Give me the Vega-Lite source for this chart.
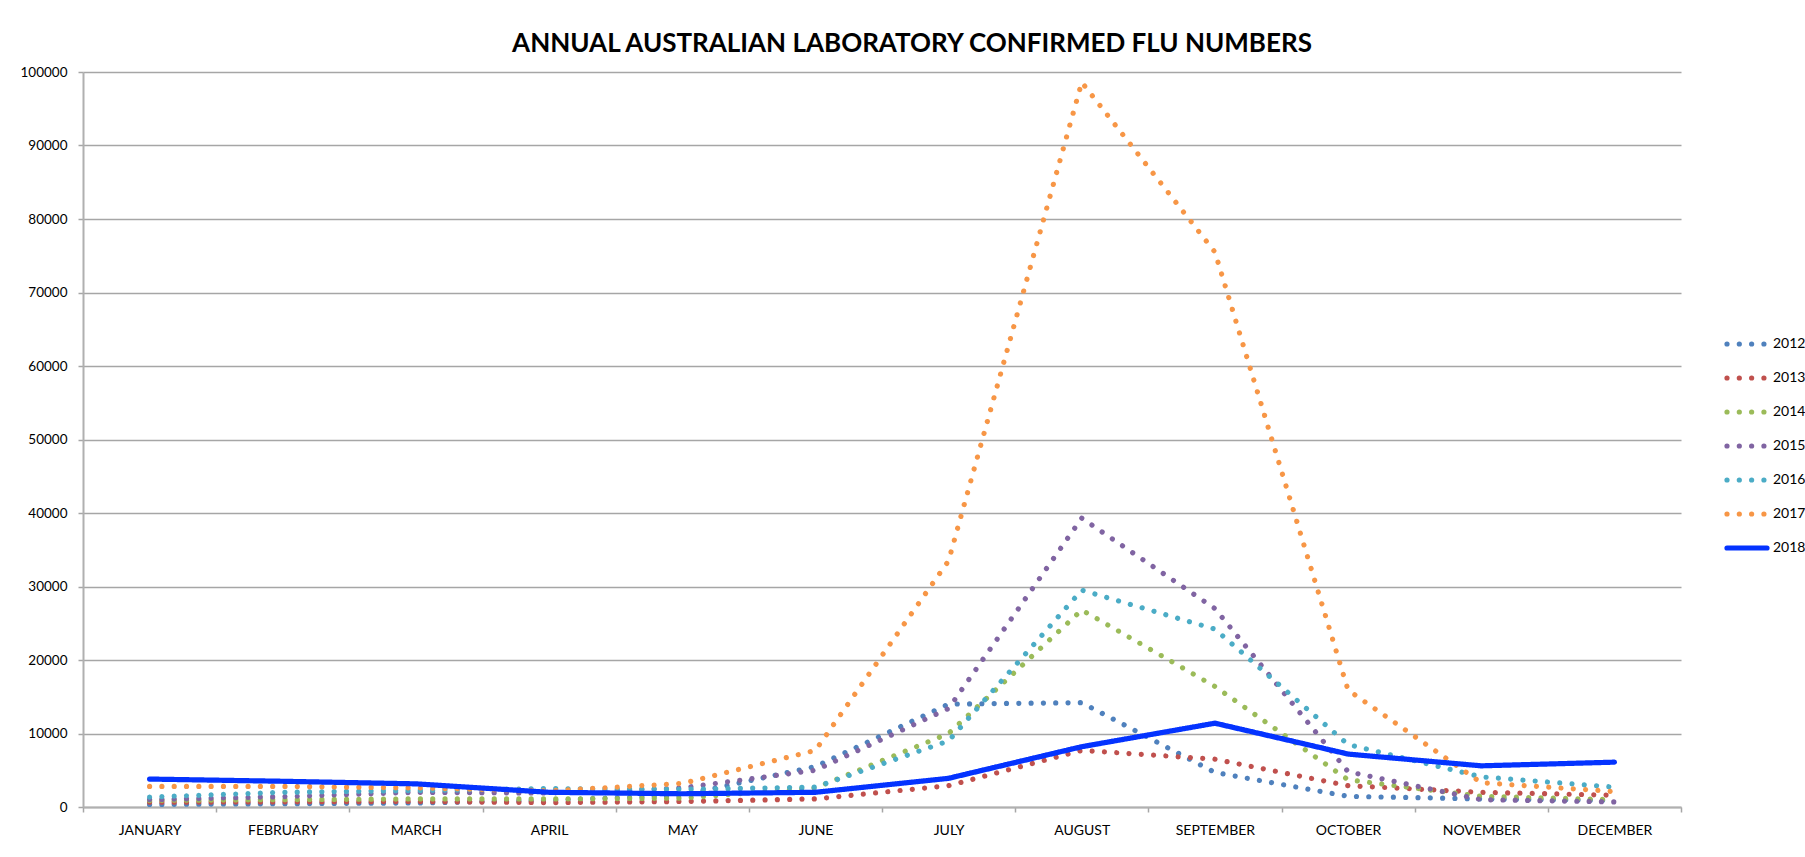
{
  "$schema": "https://vega.github.io/schema/vega-lite/v6.json",
  "autosize": {"type": "none"},
  "width": 1598,
  "height": 735,
  "padding": {"left": 83, "top": 72, "right": 124, "bottom": 50},
  "background": "white",
  "title": {
    "text": "ANNUAL AUSTRALIAN LABORATORY CONFIRMED FLU NUMBERS",
    "font": "Lato",
    "fontSize": 26,
    "fontWeight": "bold",
    "color": "black",
    "anchor": "middle",
    "frame": "group",
    "dx": 30,
    "offset": 8
  },
  "data": {
    "values": [
      {"month": "JANUARY", "year": "2012", "cases": 350},
      {"month": "FEBRUARY", "year": "2012", "cases": 450},
      {"month": "MARCH", "year": "2012", "cases": 550},
      {"month": "APRIL", "year": "2012", "cases": 900},
      {"month": "MAY", "year": "2012", "cases": 1600},
      {"month": "JUNE", "year": "2012", "cases": 5500},
      {"month": "JULY", "year": "2012", "cases": 14000},
      {"month": "AUGUST", "year": "2012", "cases": 14200},
      {"month": "SEPTEMBER", "year": "2012", "cases": 4700},
      {"month": "OCTOBER", "year": "2012", "cases": 1450},
      {"month": "NOVEMBER", "year": "2012", "cases": 1100},
      {"month": "DECEMBER", "year": "2012", "cases": 900},
      {"month": "JANUARY", "year": "2013", "cases": 650},
      {"month": "FEBRUARY", "year": "2013", "cases": 700},
      {"month": "MARCH", "year": "2013", "cases": 750},
      {"month": "APRIL", "year": "2013", "cases": 600},
      {"month": "MAY", "year": "2013", "cases": 750},
      {"month": "JUNE", "year": "2013", "cases": 1100},
      {"month": "JULY", "year": "2013", "cases": 2900},
      {"month": "AUGUST", "year": "2013", "cases": 7700},
      {"month": "SEPTEMBER", "year": "2013", "cases": 6500},
      {"month": "OCTOBER", "year": "2013", "cases": 2900},
      {"month": "NOVEMBER", "year": "2013", "cases": 2000},
      {"month": "DECEMBER", "year": "2013", "cases": 1600},
      {"month": "JANUARY", "year": "2014", "cases": 900},
      {"month": "FEBRUARY", "year": "2014", "cases": 1000},
      {"month": "MARCH", "year": "2014", "cases": 1100},
      {"month": "APRIL", "year": "2014", "cases": 1100},
      {"month": "MAY", "year": "2014", "cases": 1200},
      {"month": "JUNE", "year": "2014", "cases": 2600},
      {"month": "JULY", "year": "2014", "cases": 10000},
      {"month": "AUGUST", "year": "2014", "cases": 26800},
      {"month": "SEPTEMBER", "year": "2014", "cases": 16400},
      {"month": "OCTOBER", "year": "2014", "cases": 3700},
      {"month": "NOVEMBER", "year": "2014", "cases": 1450},
      {"month": "DECEMBER", "year": "2014", "cases": 1000},
      {"month": "JANUARY", "year": "2015", "cases": 1000},
      {"month": "FEBRUARY", "year": "2015", "cases": 1400},
      {"month": "MARCH", "year": "2015", "cases": 2000},
      {"month": "APRIL", "year": "2015", "cases": 1900},
      {"month": "MAY", "year": "2015", "cases": 2600},
      {"month": "JUNE", "year": "2015", "cases": 5000},
      {"month": "JULY", "year": "2015", "cases": 13400},
      {"month": "AUGUST", "year": "2015", "cases": 39300},
      {"month": "SEPTEMBER", "year": "2015", "cases": 27000},
      {"month": "OCTOBER", "year": "2015", "cases": 4800},
      {"month": "NOVEMBER", "year": "2015", "cases": 1000},
      {"month": "DECEMBER", "year": "2015", "cases": 700},
      {"month": "JANUARY", "year": "2016", "cases": 1350},
      {"month": "FEBRUARY", "year": "2016", "cases": 2000},
      {"month": "MARCH", "year": "2016", "cases": 2250},
      {"month": "APRIL", "year": "2016", "cases": 2500},
      {"month": "MAY", "year": "2016", "cases": 2400},
      {"month": "JUNE", "year": "2016", "cases": 2700},
      {"month": "JULY", "year": "2016", "cases": 9000},
      {"month": "AUGUST", "year": "2016", "cases": 29500},
      {"month": "SEPTEMBER", "year": "2016", "cases": 24200},
      {"month": "OCTOBER", "year": "2016", "cases": 8500},
      {"month": "NOVEMBER", "year": "2016", "cases": 4100},
      {"month": "DECEMBER", "year": "2016", "cases": 2700},
      {"month": "JANUARY", "year": "2017", "cases": 2800},
      {"month": "FEBRUARY", "year": "2017", "cases": 2800},
      {"month": "MARCH", "year": "2017", "cases": 2600},
      {"month": "APRIL", "year": "2017", "cases": 2200},
      {"month": "MAY", "year": "2017", "cases": 3200},
      {"month": "JUNE", "year": "2017", "cases": 7700},
      {"month": "JULY", "year": "2017", "cases": 33500},
      {"month": "AUGUST", "year": "2017", "cases": 98600},
      {"month": "SEPTEMBER", "year": "2017", "cases": 75500},
      {"month": "OCTOBER", "year": "2017", "cases": 15900},
      {"month": "NOVEMBER", "year": "2017", "cases": 3300},
      {"month": "DECEMBER", "year": "2017", "cases": 2100},
      {"month": "JANUARY", "year": "2018", "cases": 3800},
      {"month": "FEBRUARY", "year": "2018", "cases": 3500},
      {"month": "MARCH", "year": "2018", "cases": 3150},
      {"month": "APRIL", "year": "2018", "cases": 2000},
      {"month": "MAY", "year": "2018", "cases": 1800},
      {"month": "JUNE", "year": "2018", "cases": 2000},
      {"month": "JULY", "year": "2018", "cases": 3900},
      {"month": "AUGUST", "year": "2018", "cases": 8200},
      {"month": "SEPTEMBER", "year": "2018", "cases": 11400},
      {"month": "OCTOBER", "year": "2018", "cases": 7200},
      {"month": "NOVEMBER", "year": "2018", "cases": 5600},
      {"month": "DECEMBER", "year": "2018", "cases": 6100}
    ]
  },
  "mark": {"type": "line", "strokeCap": "round", "strokeJoin": "round", "interpolate": "linear"},
  "encoding": {
    "x": {
      "field": "month",
      "type": "ordinal",
      "sort": ["JANUARY", "FEBRUARY", "MARCH", "APRIL", "MAY", "JUNE", "JULY", "AUGUST", "SEPTEMBER", "OCTOBER", "NOVEMBER", "DECEMBER"],
      "scale": {"type": "band", "paddingInner": 0, "paddingOuter": 0},
      "axis": {
        "title": null,
        "tickBand": "extent",
        "grid": false,
        "labelFont": "Lato",
        "labelFontSize": 14,
        "labelColor": "black",
        "labelAngle": 0,
        "labelPadding": 11,
        "tickSize": 5,
        "tickColor": "#a6a6a6",
        "tickWidth": 1.5,
        "domainColor": "#b0b0b0",
        "domainWidth": 2
      }
    },
    "y": {
      "field": "cases",
      "type": "quantitative",
      "scale": {"domain": [0, 100000], "nice": false},
      "axis": {
        "title": null,
        "values": [0, 10000, 20000, 30000, 40000, 50000, 60000, 70000, 80000, 90000, 100000],
        "format": "d",
        "labelFont": "Lato",
        "labelFontSize": 13.5,
        "labelColor": "black",
        "labelPadding": 11,
        "tickSize": 5,
        "tickColor": "#a6a6a6",
        "tickWidth": 1.5,
        "domainColor": "#b0b0b0",
        "domainWidth": 2,
        "grid": true,
        "gridColor": "#a6a6a6",
        "gridWidth": 1.3
      }
    },
    "color": {
      "field": "year",
      "type": "nominal",
      "scale": {
        "domain": ["2012", "2013", "2014", "2015", "2016", "2017", "2018"],
        "range": ["#4F81BD", "#C0504D", "#9BBB59", "#8064A2", "#4BACC6", "#F79646", "#0433FF"]
      },
      "legend": {
        "title": null,
        "orient": "none",
        "legendX": 1641,
        "legendY": 249,
        "symbolType": "stroke",
        "symbolSize": 1600,
        "labelFont": "Lato",
        "labelFontSize": 14,
        "labelColor": "black",
        "labelOffset": 3,
        "rowPadding": -1,
        "encode": {
          "symbols": {"update": {"strokeCap": {"value": "round"}}}
        }
      }
    },
    "strokeDash": {
      "field": "year",
      "type": "nominal",
      "scale": {
        "domain": ["2012", "2013", "2014", "2015", "2016", "2017", "2018"],
        "range": [[0.01, 12.3], [0.01, 12.3], [0.01, 12.3], [0.01, 12.3], [0.01, 12.3], [0.01, 12.3], [1, 0]]
      },
      "legend": null
    },
    "strokeWidth": {
      "field": "year",
      "type": "nominal",
      "scale": {
        "domain": ["2012", "2013", "2014", "2015", "2016", "2017", "2018"],
        "range": [5.2, 5.2, 5.2, 5.2, 5.2, 5.2, 8]
      },
      "legend": null
    }
  },
  "config": {
    "view": {"stroke": null}
  }
}
